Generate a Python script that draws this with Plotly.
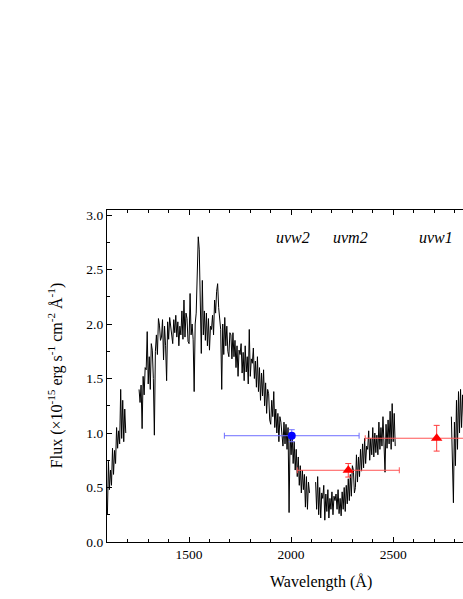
import plotly.graph_objects as go

# ---------------- data ----------------
# Spectrum segments: (start wavelength, step) and flux values
seg_a_start, seg_a_step = 1100, 5
seg_a_flux = [0.25, 0.74, 0.48, 0.66, 0.52, 0.86, 0.62, 0.84, 0.72, 1.05,
              0.86, 1.02, 0.90, 1.40, 0.95, 1.30, 0.92, 1.22, 1.00]

seg_b_start, seg_b_step = 1255, 5
seg_b_flux = [
    1.40, 1.28, 1.44, 1.04, 1.52, 1.35, 1.60, 1.58, 1.93, 1.45,          # 1255-1300
    1.70, 1.40, 1.82, 1.76, 1.50, 0.98,                                  # 1305-1330
    1.75, 1.90, 1.72, 2.05, 1.99, 1.85,                                  # 1335-1360
    1.88, 2.04, 1.67, 1.98, 1.80, 1.48,                                  # 1365-1390
    2.02, 1.86, 2.06, 1.96, 1.90, 1.82, 2.04, 1.92, 2.08, 1.88,          # 1395-1440
    2.02, 1.80, 1.98, 1.90, 2.12, 1.86, 2.22, 1.88, 2.10, 2.05,          # 1445-1490
    1.84, 1.82, 2.28, 1.90, 2.00, 1.86,                                  # 1495-1520
    1.38, 2.00, 2.10, 2.62, 2.80, 2.68, 2.20, 1.73, 2.40, 1.90,          # 1525-1570
    2.12, 1.85, 2.10, 1.80, 2.05, 1.76, 1.98, 1.95, 2.08, 1.90,          # 1575-1620
    2.22, 2.10, 2.30, 2.37, 2.15, 2.05,                                  # 1625-1650
    1.95, 1.40, 2.00, 1.72, 2.06, 1.80, 1.98, 1.75, 1.70, 1.92,          # 1655-1700
    1.90, 1.68, 1.92, 1.70,                                              # 1705-1720
    1.85, 1.60, 1.80, 1.52, 1.76, 1.72, 1.82, 1.55, 1.74, 1.48,          # 1725-1770
    1.80, 1.56, 1.70, 1.45, 1.95, 1.52, 1.68, 1.64, 1.78, 1.50,          # 1775-1820
    1.66, 1.42, 1.70, 1.38, 1.60, 1.30, 1.55, 1.34, 1.58, 1.25,          # 1825-1870
    1.46, 1.18, 1.40, 1.36, 1.12, 1.08, 1.30, 1.15, 1.38, 1.05,          # 1875-1920
    1.22, 1.00, 1.18, 0.92, 1.15, 1.10, 0.95, 0.88, 1.10, 0.90,          # 1925-1970
    1.08, 0.85, 1.05, 0.27, 0.98,                                        # 1975-1995
    0.80, 1.00, 0.72, 0.92, 0.66, 0.85,                                  # 2000-2025
    0.60, 0.78, 0.52, 0.70, 0.45, 0.66, 0.48, 0.62, 0.32, 0.60,          # 2030-2075
    0.30, 0.55, 0.45,                                                    # 2080-2090
]

seg_c_start, seg_c_step = 2120, 5
seg_c_flux = [
    0.55, 0.30, 0.60, 0.25, 0.50, 0.22, 0.45, 0.40, 0.52, 0.20,          # 2120-2165
    0.44, 0.28, 0.48, 0.22, 0.40,                                        # 2170-2190
    0.30, 0.46, 0.25, 0.42, 0.38, 0.44, 0.30, 0.48, 0.26, 0.40,          # 2195-2240
    0.24, 0.46, 0.30, 0.50, 0.28, 0.52,                                  # 2245-2270
    0.35, 0.58, 0.38, 0.62, 0.42, 0.70, 0.66, 0.45, 0.50, 0.80,          # 2275-2320
    0.55, 0.78, 0.60,                                                    # 2325-2335
    0.85, 0.65, 0.90, 0.68, 0.95, 0.72, 0.88, 0.85, 1.02, 0.75,          # 2340-2385
    0.95, 0.80, 1.05, 0.78, 1.00, 0.82, 0.98,                            # 2390-2420
    0.80, 1.10, 0.85, 1.05, 0.88, 1.15, 0.82, 0.64, 1.08, 0.86,          # 2425-2470
    1.12, 0.90, 1.20, 0.85, 1.27, 0.92, 1.18, 0.88,                      # 2475-2510
]

seg_d_start, seg_d_step = 2785, 5
seg_d_flux = [1.15, 0.60, 0.36, 1.10, 0.70, 1.30, 0.85, 1.38, 1.00, 1.40,
              1.05, 1.35, 1.12, 1.30]

# UVOT photometry
uvw2_wave, uvw2_flux, uvw2_werr, uvw2_ferr = [2003], [0.975], [330], [0.055]
red_wave = [2280, 2713]
red_flux = [0.658, 0.952]
red_werr = [250, 350]
red_ferr = [0.062, 0.118]

filter_names = ["uvw2", "uvm2", "uvw1"]
filter_label_wave = [2011, 2291, 2708]

# ---------------- build spectrum ----------------
spec_x, spec_y = [], []
for start, step, flux in [(seg_a_start, seg_a_step, seg_a_flux),
                          (seg_b_start, seg_b_step, seg_b_flux),
                          (seg_c_start, seg_c_step, seg_c_flux),
                          (seg_d_start, seg_d_step, seg_d_flux)]:
    spec_x += [start + i * step for i in range(len(flux))] + [None]
    spec_y += flux + [None]

FONT = "Liberation Serif"

fig = go.Figure()
fig.add_trace(go.Scatter(x=spec_x, y=spec_y, mode="lines",
                         line=dict(color="black", width=1), connectgaps=False,
                         showlegend=False, hoverinfo="skip"))
fig.add_trace(go.Scatter(
    x=uvw2_wave, y=uvw2_flux, mode="markers",
    marker=dict(symbol="circle", size=8, color="#0000ff"),
    error_x=dict(type="data", array=uvw2_werr, color="rgb(110,110,255)", thickness=1, width=3),
    error_y=dict(type="data", array=uvw2_ferr, color="rgb(110,110,255)", thickness=1, width=3),
    showlegend=False))
fig.add_trace(go.Scatter(
    x=red_wave, y=red_flux, mode="markers",
    marker=dict(symbol="triangle-up", size=10, color="#ff0000"),
    error_x=dict(type="data", array=red_werr, color="rgb(255,85,85)", thickness=1, width=3),
    error_y=dict(type="data", array=red_ferr, color="rgb(255,60,60)", thickness=1, width=3),
    showlegend=False))

for name, w in zip(filter_names, filter_label_wave):
    fig.add_annotation(x=w, y=2.79, xref="x", yref="y", text="<i>" + name + "</i>",
                       showarrow=False,
                       font=dict(family=FONT, size=16, color="black"),
                       xanchor="center", yanchor="middle")

# axis titles placed as annotations (paper coordinates of the 107..463 x 210..541.7 plot box)
fig.add_annotation(x=(321 - 107) / (463 - 107), y=-(582 - 541.7) / (541.7 - 210),
                   xref="paper", yref="paper", text="Wavelength (Å)",
                   showarrow=False, font=dict(family=FONT, size=16, color="black"),
                   xanchor="center", yanchor="middle")
fig.add_annotation(x=-(107 - 55) / (463 - 107), y=(541.7 - 376) / (541.7 - 210),
                   xref="paper", yref="paper",
                   text="Flux (×10<sup>-15</sup> erg s<sup>-1</sup> cm<sup>-2</sup> Å<sup>-1</sup>)",
                   textangle=-90, showarrow=False,
                   font=dict(family=FONT, size=16, color="black"),
                   xanchor="center", yanchor="middle")

fig.update_layout(
    width=463, height=599,
    margin=dict(l=107, r=0, t=210, b=57, autoexpand=False),
    paper_bgcolor="white", plot_bgcolor="white",
    font=dict(family=FONT, size=13, color="black"),
    showlegend=False,
    xaxis=dict(range=[1098, 2842], showgrid=False, zeroline=False, automargin=False,
               showline=True, linecolor="black", linewidth=1.3, mirror="ticks",
               ticks="inside", ticklen=5, tickwidth=1, tickcolor="black",
               tickvals=[1500, 2000, 2500], ticktext=["1500", "2000", "2500"],
               minor=dict(ticks="inside", ticklen=3, dtick=100, tick0=1000,
                          tickcolor="black", showgrid=False),
               tickfont=dict(family=FONT, size=13.5)),
    yaxis=dict(range=[0, 3.046], showgrid=False, zeroline=False, automargin=False,
               showline=True, linecolor="black", linewidth=1.3, mirror=False,
               ticks="inside", ticklen=5, tickwidth=1, tickcolor="black",
               tickvals=[0, 0.5, 1.0, 1.5, 2.0, 2.5, 3.0],
               ticktext=["0.0", "0.5", "1.0", "1.5", "2.0", "2.5", "3.0"],
               minor=dict(ticks="inside", ticklen=3, dtick=0.25, tick0=0,
                          tickcolor="black", showgrid=False),
               tickfont=dict(family=FONT, size=13.5)),
)

# remove the page's default body margin so the figure fills the window exactly
fig.write_html("out.html", config={"displayModeBar": False},
               post_script="document.body.style.margin='0px';document.body.style.overflow='hidden';")
